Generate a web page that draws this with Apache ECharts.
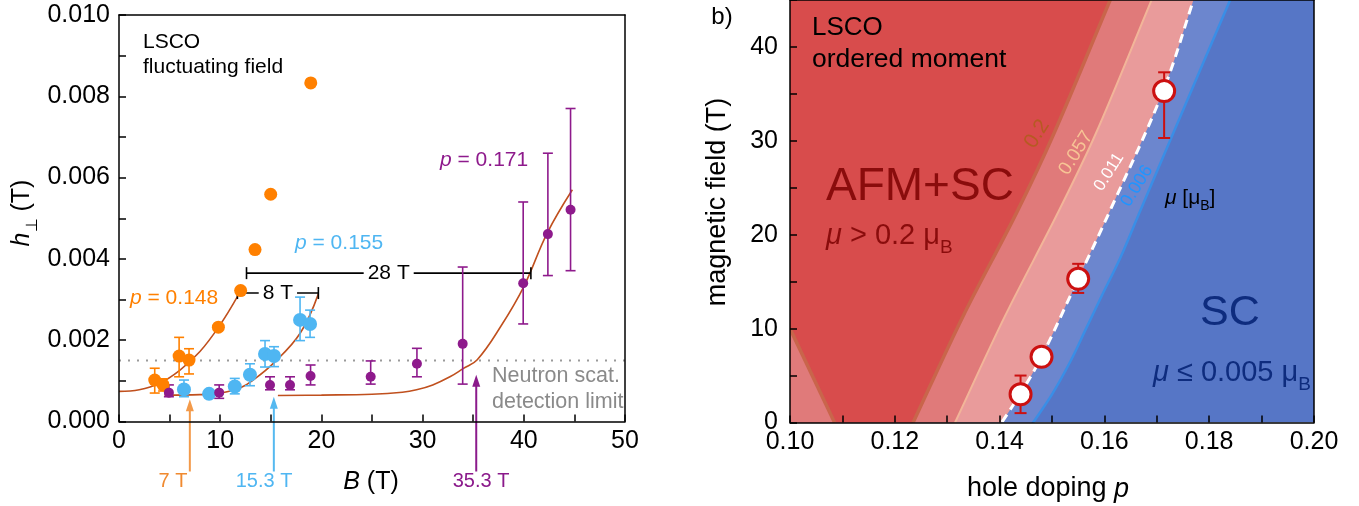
<!DOCTYPE html>
<html><head><meta charset="utf-8">
<script src="https://cdn.jsdelivr.net/npm/echarts@6/dist/echarts.min.js"></script>
<style>html,body{margin:0;padding:0;background:#fff}#c{width:1359px;height:506px}</style>
</head><body><div id="c"></div>
<script>
// ===== Panel a: fluctuating field h_perp vs B =====
const orangeB  = [3.53, 4.36, 5.94, 6.92, 9.82, 12.02, 13.44, 14.99, 18.95];
const orangeH  = [0.00102, 0.0009, 0.00161, 0.00151, 0.00232, 0.00322, 0.00423, 0.00559, 0.00833];
const orangeLo = [0.0007, 0.00075, 0.0011, 0.00117, null, null, null, null, null];
const orangeHi = [0.00131, 0.00105, 0.00207, 0.00179, null, null, null, null, null];

const blueB  = [6.42, 8.9, 11.44, 12.94, 14.43, 15.32, 17.89, 18.88];
const blueH  = [0.00079, 0.00068, 0.00086, 0.00115, 0.00166, 0.00161, 0.0025, 0.0024];
const blueLo = [0.00061, null, 0.00068, 0.00088, 0.00134, 0.00135, 0.00199, 0.00207];
const blueHi = [0.00102, null, 0.00106, 0.00142, 0.00199, 0.00184, 0.00306, 0.00274];

const purpleB  = [4.93, 9.9, 14.92, 16.9, 18.93, 24.87, 29.44, 33.96, 39.94, 42.38, 44.62];
const purpleH  = [0.00071, 0.00071, 0.0009, 0.0009, 0.00112, 0.0011, 0.00142, 0.00191, 0.0034, 0.00461, 0.00521];
const purpleLo = [0.00061, 0.00057, 0.00078, 0.00078, 0.0009, 0.00092, 0.0011, 0.00092, 0.0024, 0.00359, 0.00371];
const purpleHi = [0.0009, 0.0009, 0.0011, 0.0011, 0.00139, 0.00149, 0.0018, 0.0038, 0.0054, 0.0066, 0.0077];

const orangeFitB = [0, 2, 4, 6, 8, 10, 11.7];
const orangeFitH = [0.00074, 0.00078, 0.00094, 0.00126, 0.00172, 0.00238, 0.00307];
const blueFitB = [4.5, 8, 10, 12, 13.25, 15.25, 17.9, 19.7];
const blueFitH = [0.00065, 0.00066, 0.0007, 0.00083, 0.00102, 0.00143, 0.00217, 0.00314];
const purpleFitB = [15.7, 20, 25, 28, 29.4, 31, 32.7, 34, 35.4, 37.7, 40, 42.3, 44.8];
const purpleFitH = [0.00064, 0.00065, 0.00067, 0.00072, 0.00078, 0.0009, 0.0011, 0.0013, 0.00152, 0.00233, 0.00332, 0.00463, 0.0057];

const detectionLimit = 0.0015;
const gapFrom  = [11.7, 12.6];
const gapTo    = [19.7, 40.7];
const gapH     = [0.00316, 0.00365];
const gapLabel = ['8 T', '28 T'];

const arrowB     = [7, 15.3, 35.3];
const arrowTipH  = [0.00055, 0.00061, 0.00115];
const arrowLabel = ['7 T', '15.3 T', '35.3 T'];

const xTicksA = [0, 10, 20, 30, 40, 50];
const yTicksA = [0, 0.002, 0.004, 0.006, 0.008, 0.010];

// ===== Panel b: phase diagram (contours of ordered moment) =====
const c02P = [0.1235, 0.133, 0.1432, 0.1503, 0.1611];
const c02B = [0, 11.3, 22.3, 30.7, 45];
const c02LeftP = [0.10, 0.1085];
const c02LeftB = [10, 0];
const c057P = [0.1315, 0.141, 0.151, 0.1583, 0.169];
const c057B = [0, 11.3, 22.2, 30.7, 45];
const c011P = [0.1404, 0.1439, 0.148, 0.155, 0.1611, 0.1712, 0.177];
const c011B = [0, 3, 7, 15.3, 22.6, 35.3, 45];
const c006P = [0.1464, 0.150, 0.1535, 0.1565, 0.1595, 0.163, 0.1665, 0.1748, 0.184];
const c006B = [0, 3, 6.5, 10, 13.5, 17.5, 22.1, 33, 45];

const ptP  = [0.144, 0.148, 0.155, 0.1714];
const ptB  = [3.0, 7.0, 15.3, 35.3];
const ptLo = [1.0, null, 13.8, 30.3];
const ptHi = [5.0, null, 16.9, 37.3];

const pMin = 0.10, pMax = 0.20, fMin = 0, fMax = 45;

// ===== helpers =====
const FF = 'Liberation Sans';
const pairs = (xs, ys) => xs.map((x, i) => [x, ys[i]]);
const errData = (xs, lo, hi) => xs.map((x, i) => lo[i] == null ? null : [x, lo[i], hi[i]]).filter(d => d);

function errRender(color, cap, lw) {
  return function (params, api) {
    const x = api.value(0);
    const a = api.coord([x, api.value(1)]), b = api.coord([x, api.value(2)]);
    const st = { stroke: color, lineWidth: lw };
    return { type: 'group', children: [
      { type: 'line', shape: { x1: a[0], y1: a[1], x2: b[0], y2: b[1] }, style: st },
      { type: 'line', shape: { x1: a[0] - cap, y1: a[1], x2: a[0] + cap, y2: a[1] }, style: st },
      { type: 'line', shape: { x1: b[0] - cap, y1: b[1], x2: b[0] + cap, y2: b[1] }, style: st }
    ]};
  };
}

const arrowColors = ['#f39a4a', '#55b9f0', '#8b1a8b'];
function arrowRender(params, api) {
  const i = params.dataIndex;
  const t = api.coord([api.value(0), api.value(1)]);
  const base = api.coord([api.value(0), 0]);
  const c = arrowColors[i];
  return { type: 'group', children: [
    { type: 'line', shape: { x1: t[0], y1: base[1] + 50, x2: t[0], y2: t[1] + 8 }, style: { stroke: c, lineWidth: 2 } },
    { type: 'polygon', shape: { points: [[t[0], t[1]], [t[0] - 4, t[1] + 12], [t[0] + 4, t[1] + 12]] }, style: { fill: c } }
  ]};
}

function gapRender(params, api) {
  const i = params.dataIndex;
  const a = api.coord([api.value(0), api.value(2)]);
  const b = api.coord([api.value(1), api.value(2)]);
  const st = { stroke: '#000', lineWidth: 1.6 };
  const mx = (a[0] + b[0]) / 2;
  return { type: 'group', children: [
    { type: 'line', shape: { x1: a[0], y1: a[1], x2: b[0], y2: b[1] }, style: st },
    { type: 'line', shape: { x1: a[0], y1: a[1] - 6, x2: a[0], y2: a[1] + 6 }, style: st },
    { type: 'line', shape: { x1: b[0], y1: b[1] - 6, x2: b[0], y2: b[1] + 6 }, style: st },
    { type: 'text', x: mx, y: a[1], style: { text: gapLabel[i], font: '21px "Liberation Sans"', fill: '#000',
      backgroundColor: '#fff', padding: [0, 4, 0, 4], align: 'center', verticalAlign: 'middle', textAlign: 'center', textVerticalAlign: 'middle' } }
  ]};
}

// drawing-only extension of a contour beyond the clipped plot range, so its smoothed shape has no end effects
function extended(ps, bs) {
  const n = ps.length;
  const s0 = (ps[1] - ps[0]) / (bs[1] - bs[0]);
  const s1 = (ps[n - 1] - ps[n - 2]) / (bs[n - 1] - bs[n - 2]);
  const head = [fMin - 8, fMin - 4].map(b => [ps[0] + s0 * (b - bs[0]), b]);
  const tail = [fMax + 4, fMax + 8].map(b => [ps[n - 1] + s1 * (b - bs[n - 1]), b]);
  return head.concat(pairs(ps, bs), tail);
}
const SM = 0.35;
const leftOf = (ps, bs) => [[pMin - 0.06, fMin - 8]].concat(extended(ps, bs), [[pMin - 0.06, fMax + 8]]);

const layers = [
  { fill: '#5676c6', pts: [[pMin, fMin], [pMax, fMin], [pMax, fMax], [pMin, fMax]], smooth: 0 },
  { fill: '#6c86ce', pts: leftOf(c006P, c006B), smooth: SM },
  { fill: '#e99b9b', pts: leftOf(c011P, c011B), smooth: SM },
  { fill: '#e07a7a', pts: leftOf(c057P, c057B), smooth: SM },
  { fill: '#d84c4c', pts: leftOf(c02P, c02B), smooth: SM },
  { fill: '#e07a7a', pts: pairs(c02LeftP, c02LeftB).concat([[pMin, fMin]]), smooth: 0 },
  { line: '#c9654b', width: 3.5, pts: extended(c02P, c02B), smooth: SM },
  { line: '#c9654b', width: 3.5, pts: pairs(c02LeftP, c02LeftB), smooth: 0 },
  { line: '#f2b599', width: 2, pts: extended(c057P, c057B), smooth: SM },
  { line: '#3a8ee6', width: 2.5, pts: extended(c006P, c006B), smooth: SM },
  { line: '#ffffff', width: 3, dash: [9, 6], pts: extended(c011P, c011B), smooth: SM }
];
function layerRender(params, api) {
  const L = layers[params.dataIndex];
  const pts = L.pts.map(p => api.coord(p));
  if (L.fill) {
    return { type: 'polygon', z2: params.dataIndex, shape: { points: pts, smooth: L.smooth }, style: { fill: L.fill } };
  }
  return { type: 'polyline', z2: params.dataIndex, shape: { points: pts, smooth: L.smooth },
    style: { stroke: L.line, lineWidth: L.width, fill: null, lineDash: L.dash || null } };
}

function T(x, y, text, size, color, o) {
  o = o || {};
  const align = o.align || 'left';
  const el = { type: 'text', x: x, y: y, z: 100, style: {
    text: text, fill: color, font: (o.italic ? 'italic ' : '') + size + 'px "Liberation Sans"',
    align: align, verticalAlign: 'middle', textAlign: align, textVerticalAlign: 'middle' } };
  if (o.rich) el.style.rich = o.rich;
  if (o.rot) el.rotation = o.rot;
  return el;
}
function richSet(size, color, subSize) {
  return {
    i: { fontSize: size, fontFamily: FF, fontStyle: 'italic', fill: color, color: color, lineHeight: size * 1.45 },
    n: { fontSize: size, fontFamily: FF, fill: color, color: color, lineHeight: size * 1.45 },
    s: { fontSize: subSize, fontFamily: FF, fill: color, color: color, lineHeight: subSize, verticalAlign: 'bottom' }
  };
}

const TICK_FS = 25;
const axisCommon = (gi) => ({
  gridIndex: gi, z: 10,
  axisLine: { show: true, onZero: false, lineStyle: { color: '#000', width: 1.5 } },
  axisTick: { show: true, inside: true, length: 7, lineStyle: { color: '#000', width: 1.5 } },
  splitLine: { show: false }
});
const frameAxisX = (gi, min, max) => ({ gridIndex: gi, type: 'value', position: 'top', min: min, max: max, z: 10,
  axisLine: { show: true, onZero: false, lineStyle: { color: '#000', width: 1.5 } },
  axisTick: { show: false }, axisLabel: { show: false }, splitLine: { show: false } });
const frameAxisY = (gi, min, max) => ({ gridIndex: gi, type: 'value', position: 'right', min: min, max: max, z: 10,
  axisLine: { show: true, onZero: false, lineStyle: { color: '#000', width: 1.5 } },
  axisTick: { show: false }, axisLabel: { show: false }, splitLine: { show: false } });

const option = {
  animation: false,
  backgroundColor: '#fff',
  grid: [
    { left: 119, right: 734, top: 15, bottom: 84.5 },
    { left: 790, right: 45, top: 0, bottom: 83.5 }
  ],
  xAxis: [
    Object.assign(axisCommon(0), { type: 'value', min: 0, max: 50, interval: 5,
      axisLabel: { color: '#000', fontSize: TICK_FS, fontFamily: FF, margin: 7,
        formatter: v => xTicksA.some(t => Math.abs(t - v) < 1e-9) ? String(Math.round(v)) : '' } }),
    Object.assign(axisCommon(1), { type: 'value', min: pMin, max: pMax, interval: 0.01,
      axisLabel: { color: '#000', fontSize: TICK_FS, fontFamily: FF, margin: 7,
        formatter: v => { const k = Math.round(v * 100); return k % 2 === 0 ? (k / 100).toFixed(2) : ''; } } }),
    frameAxisX(0, 0, 50),
    frameAxisX(1, pMin, pMax)
  ],
  yAxis: [
    Object.assign(axisCommon(0), { type: 'value', min: 0, max: 0.010, interval: 0.001,
      axisLabel: { color: '#000', fontSize: TICK_FS, fontFamily: FF, margin: 9,
        formatter: v => yTicksA.some(t => Math.abs(t - v) < 1e-9) ? v.toFixed(3) : '' } }),
    Object.assign(axisCommon(1), { type: 'value', min: fMin, max: fMax, interval: 5,
      axisLabel: { color: '#000', fontSize: TICK_FS, fontFamily: FF, margin: 12,
        formatter: v => { const k = Math.round(v); return k % 10 === 0 ? String(k) : ''; } } }),
    frameAxisY(0, 0, 0.010),
    frameAxisY(1, fMin, fMax)
  ],
  series: [
    // ---- panel a ----
    { type: 'line', xAxisIndex: 0, yAxisIndex: 0, data: [[0, detectionLimit], [50, detectionLimit]], showSymbol: false, silent: true,
      lineStyle: { color: '#9a9a9a', width: 2, type: [2, 7] }, z: 2 },
    { type: 'line', xAxisIndex: 0, yAxisIndex: 0, data: pairs(orangeFitB, orangeFitH), showSymbol: false, smooth: 0.4,
      lineStyle: { color: '#c0501e', width: 1.6 }, z: 3 },
    { type: 'line', xAxisIndex: 0, yAxisIndex: 0, data: pairs(blueFitB, blueFitH), showSymbol: false, smooth: 0.4,
      lineStyle: { color: '#c0501e', width: 1.6 }, z: 3 },
    { type: 'line', xAxisIndex: 0, yAxisIndex: 0, data: pairs(purpleFitB, purpleFitH), showSymbol: false, smooth: 0.4,
      lineStyle: { color: '#c0501e', width: 1.6 }, z: 3 },
    { type: 'custom', xAxisIndex: 0, yAxisIndex: 0, data: gapFrom.map((f, i) => [f, gapTo[i], gapH[i]]),
      encode: { x: [0, 1], y: 2 }, renderItem: gapRender, z: 4 },
    { type: 'custom', xAxisIndex: 0, yAxisIndex: 0, data: errData(orangeB, orangeLo, orangeHi), encode: { x: 0, y: [1, 2] },
      renderItem: errRender('#ff8000', 5, 1.6), z: 5 },
    { type: 'custom', xAxisIndex: 0, yAxisIndex: 0, data: errData(blueB, blueLo, blueHi), encode: { x: 0, y: [1, 2] },
      renderItem: errRender('#4fb6f2', 5, 1.6), z: 5 },
    { type: 'custom', xAxisIndex: 0, yAxisIndex: 0, data: errData(purpleB, purpleLo, purpleHi), encode: { x: 0, y: [1, 2] },
      renderItem: errRender('#8e1a8c', 5, 1.6), z: 5 },
    { type: 'scatter', xAxisIndex: 0, yAxisIndex: 0, data: pairs(orangeB, orangeH), symbolSize: 13,
      itemStyle: { color: '#ff8000', opacity: 1 }, z: 6 },
    { type: 'scatter', xAxisIndex: 0, yAxisIndex: 0, data: pairs(blueB, blueH), symbolSize: 14,
      itemStyle: { color: '#4fb6f2', opacity: 1 }, z: 6 },
    { type: 'scatter', xAxisIndex: 0, yAxisIndex: 0, data: pairs(purpleB, purpleH), symbolSize: 10,
      itemStyle: { color: '#8e1a8c', opacity: 1 }, z: 7 },
    { type: 'custom', xAxisIndex: 0, yAxisIndex: 0, clip: false, data: arrowB.map((b, i) => [b, arrowTipH[i]]),
      encode: { x: 0, y: 1 }, renderItem: arrowRender, z: 8 },
    // ---- panel b ----
    { type: 'custom', xAxisIndex: 1, yAxisIndex: 1, clip: true, silent: true,
      data: layers.map(() => [pMin, fMin]), encode: { x: 0, y: 1 }, renderItem: layerRender, z: 1 },
    { type: 'custom', xAxisIndex: 1, yAxisIndex: 1, data: errData(ptP, ptLo, ptHi), encode: { x: 0, y: [1, 2] },
      renderItem: errRender('#cc1010', 6, 2), z: 5 },
    { type: 'scatter', xAxisIndex: 1, yAxisIndex: 1, data: pairs(ptP, ptB), symbolSize: 21,
      itemStyle: { color: '#ffffff', borderColor: '#cc1010', borderWidth: 3, opacity: 1 }, z: 6 }
  ],
  graphic: [
    // panel a texts
    T(143, 42, 'LSCO', 21, '#000'),
    T(143, 67, 'fluctuating field', 21, '#000'),
    T(130, 298, '{i|p}{n| = 0.148}', 21, '#ff8000', { rich: richSet(21, '#ff8000', 14) }),
    T(295, 243, '{i|p}{n| = 0.155}', 21, '#4fb6f2', { rich: richSet(21, '#4fb6f2', 14) }),
    T(440, 160, '{i|p}{n| = 0.171}', 21, '#8e1a8c', { rich: richSet(21, '#8e1a8c', 14) }),
    T(492, 376, 'Neutron scat.', 21.5, '#8a8a8a'),
    T(492, 402, 'detection limit', 21.5, '#8a8a8a'),
    T(173, 481, arrowLabel[0], 20, '#f08a30', { align: 'center' }),
    T(264, 481, arrowLabel[1], 20, '#4fb6f2', { align: 'center' }),
    T(481, 481, arrowLabel[2], 20, '#8b1a8b', { align: 'center' }),
    T(371, 482, '{i|B}{n| (T)}', 25, '#000', { align: 'center', rich: richSet(25, '#000', 16) }),
    T(22, 213, '{i|h}{s|⊥}{n| (T)}', 25, '#000', { align: 'center', rot: Math.PI / 2, rich: richSet(25, '#000', 16) }),
    // panel b texts
    T(722, 17, 'b)', 24, '#000', { align: 'center' }),
    T(718, 202, 'magnetic field (T)', 27, '#000', { align: 'center', rot: Math.PI / 2 }),
    T(1048, 489, '{n|hole doping }{i|p}', 27, '#000', { align: 'center', rich: richSet(27, '#000', 18) }),
    T(812, 28, 'LSCO', 26, '#000'),
    T(812, 60, 'ordered moment', 26.5, '#000'),
    T(826, 187, 'AFM+SC', 46, '#8a0c0c'),
    T(826, 236, '{i|μ}{n| > 0.2 μ}{s|B}', 29, '#8a0c0c', { rich: richSet(29, '#8a0c0c', 19) }),
    T(1200, 313, 'SC', 43, '#0e2c7e'),
    T(1153, 373, '{i|μ}{n| ≤ 0.005 μ}{s|B}', 29, '#0e2c7e', { rich: richSet(29, '#0e2c7e', 19) }),
    T(1165, 198, '{i|μ}{n| [μ}{s|B}{n|]}', 21, '#000', { rich: richSet(21, '#000', 14) }),
    T(1037, 134, '0.2', 21, '#b65a22', { align: 'center', rot: Math.PI / 180 * 58 }),
    T(1076, 153, '0.057', 19, '#f7c495', { align: 'center', rot: Math.PI / 180 * 58 }),
    T(1109, 172, '0.011', 17, '#ffffff', { align: 'center', rot: Math.PI / 180 * 58 }),
    T(1137, 186, '0.006', 18, '#1f95ff', { align: 'center', rot: Math.PI / 180 * 58 })
  ]
};

const chart = echarts.init(document.getElementById('c'), null, { renderer: 'canvas' });
chart.setOption(option);
</script>
</body></html>
